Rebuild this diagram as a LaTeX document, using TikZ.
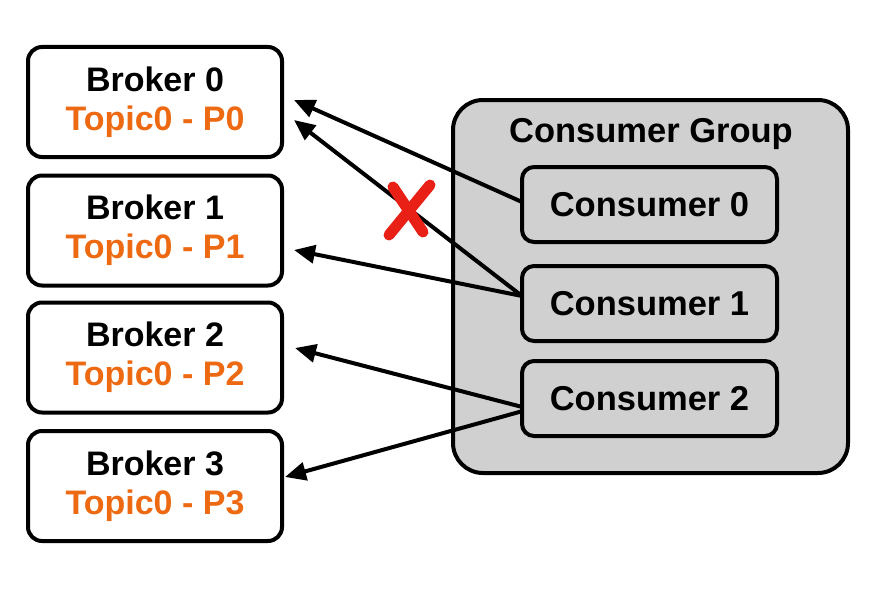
\documentclass[tikz,border=0pt]{standalone}
\usepackage{fontspec}
\setmainfont{Liberation Sans}
\usetikzlibrary{arrows.meta}
\definecolor{topicorange}{RGB}{238,106,18}
\definecolor{groupgray}{RGB}{208,208,208}
\definecolor{crossred}{RGB}{232,32,22}
\begin{document}
\begin{tikzpicture}[x=1pt,y=-1pt,
  brokerbox/.style={draw,line width=4pt,rounded corners=14pt,fill=white,minimum width=254pt,minimum height=110pt,align=center,inner sep=0pt,font=\fontsize{34}{39}\selectfont\bfseries},
  consbox/.style={draw,line width=4pt,rounded corners=12pt,fill=groupgray,minimum width=255pt,minimum height=75pt,inner sep=0pt,font=\fontsize{34.5}{38}\selectfont\bfseries},
  grpbox/.style={draw,line width=4pt,rounded corners=30pt,fill=groupgray},
  conn/.style={line width=4pt,-{Triangle[length=21pt,width=18pt]}},
  crossline/.style={line width=11pt,crossred,line cap=round}]
\useasboundingbox (0,0) rectangle (888,594);
\node[brokerbox] (b0) at (155,102) {Broker 0\\\textcolor{topicorange}{Topic0 - P0}};
\node[brokerbox] (b1) at (155,230.5) {Broker 1\\\textcolor{topicorange}{Topic0 - P1}};
\node[brokerbox] (b2) at (155,357.5) {Broker 2\\\textcolor{topicorange}{Topic0 - P2}};
\node[brokerbox] (b3) at (155,486) {Broker 3\\\textcolor{topicorange}{Topic0 - P3}};
\draw[grpbox] (453,100) rectangle (848,473);
\node[font=\fontsize{34.5}{38}\selectfont\bfseries] (title) at (651,134) {Consumer Group};
\coordinate (s0) at (522,202);
\coordinate (s1) at (522,296);
\coordinate (s2) at (530,409);
\coordinate (t0a) at (294,100);
\coordinate (t0b) at (294,120);
\coordinate (t1) at (294,250);
\coordinate (t2) at (295,348);
\coordinate (t3) at (285,477);
\draw[conn] (s0) -- (t0a);
\draw[conn] (s1) -- (t0b);
\draw[conn] (s1) -- (t1);
\draw[conn] (s2) -- (t2);
\draw[conn] (s2) -- (t3);
\node[consbox] (c0) at (649.5,204.5) {Consumer 0};
\node[consbox] (c1) at (649.5,303.5) {Consumer 1};
\node[consbox] (c2) at (649.5,398.5) {Consumer 2};
\draw[crossline] (393,187) -- (423,232);
\draw[crossline] (430,185) -- (389,235);
\end{tikzpicture}
\end{document}
